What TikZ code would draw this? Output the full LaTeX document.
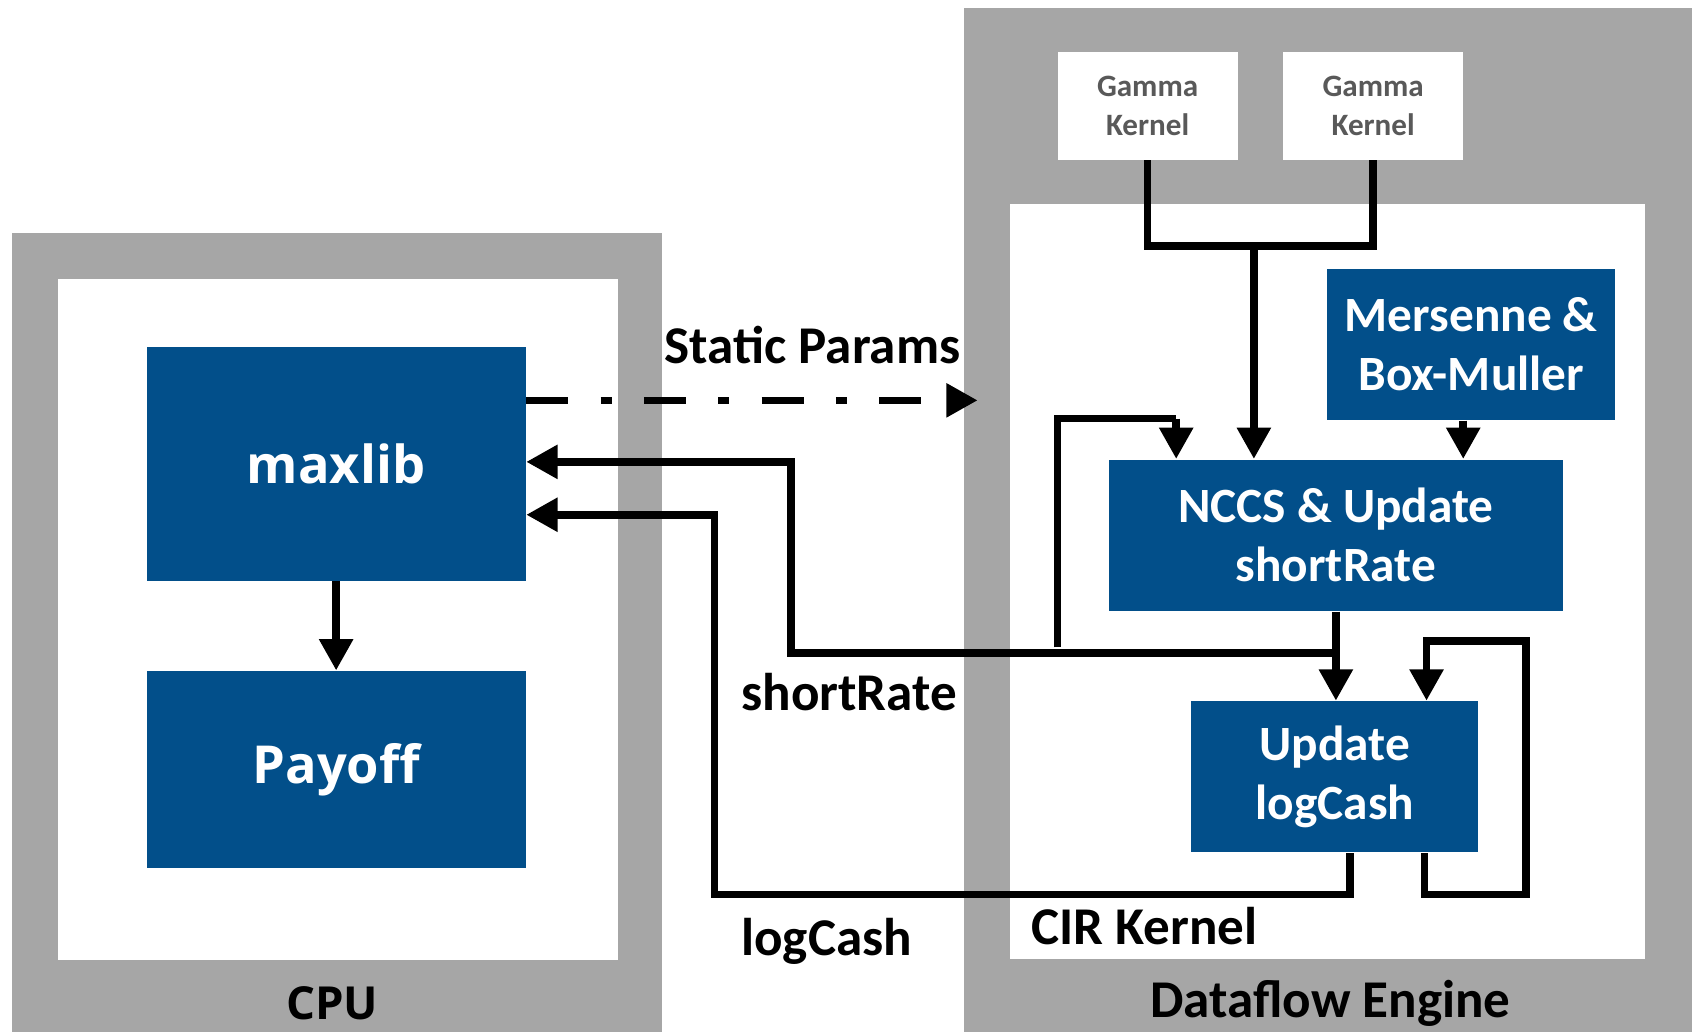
\documentclass[tikz,border=0pt]{standalone}
\usepackage{fontspec}
\setmainfont{Carlito}
\newfontfamily\uifont{Open Sans}
\usetikzlibrary{positioning,arrows.meta,calc}
\definecolor{framec}{RGB}{166,166,166}
\definecolor{blockc}{RGB}{2,79,138}
\definecolor{kernc}{RGB}{89,89,89}
\tikzset{
  frame/.style={fill=framec, anchor=north west, inner sep=0pt},
  pane/.style={fill=white, anchor=north west, inner sep=0pt},
  blk/.style={fill=blockc, text=white, align=center, inner sep=0pt,
    font=\bfseries\fontsize{13}{15.5}\selectfont},
  hostblk/.style={blk, font=\uifont\bfseries\fontsize{13.8}{16}\selectfont,
    minimum width=3.51cm},
  gam/.style={fill=white, text=kernc, align=center, inner sep=0pt,
    font=\bfseries\fontsize{8.2}{10.2}\selectfont,
    minimum width=1.67cm, minimum height=1cm},
  lbl/.style={font=\bfseries\fontsize{14}{17}\selectfont, inner sep=0pt},
  wire/.style={line width=0.7mm},
  link/.style={wire, -{Triangle[length=2.9mm,width=3mm]}},
}

\begin{document}
\begin{tikzpicture}[x=0.1mm, y=-0.1mm]
\useasboundingbox (0,0) rectangle (1568,956);

% ------------------------------------------------- frames
\node[frame, minimum width=6.03cm, minimum height=7.41cm] (cpu) at (10,215) {};
\node[pane, minimum width=5.19cm, minimum height=6.31cm] (cpuin) at (53,258) {};
\node[frame, minimum width=6.75cm, minimum height=9.49cm] (dfe) at (893,7) {};
\node[pane, minimum width=5.89cm, minimum height=7.00cm] (cirin) at (935,188) {};

\node[font=\uifont\bfseries\fontsize{12}{14}\selectfont] (cpulbl) at (308,930) {CPU};
\node[lbl] (dfelbl) at (1233,930) {Dataflow Engine};
\node[lbl, anchor=west] (cirlbl) at (955,858) {CIR Kernel};

% ------------------------------------------------- CPU side
\node[hostblk, minimum height=2.16cm] (maxlib) at (311.5,430) {maxlib};
\node[hostblk, minimum height=1.82cm] (payoff) at (311.5,713) {Payoff};
\draw[link] (maxlib.south) -- (payoff.north);

% ------------------------------------------------- DFE side
\node[gam] (gamA) at (1063.5,98) {Gamma\\Kernel};
\node[gam] (gamB) at (1272.5,98) {Gamma\\Kernel};
\node[blk, minimum width=2.67cm, minimum height=1.4cm] (mers) at (1363.5,319)
  {Mersenne \&\\Box-Muller};
\node[blk, minimum width=4.2cm, minimum height=1.4cm] (nccs) at (1238,496)
  {NCCS \& Update\\shortRate};
\node[blk, minimum width=2.66cm, minimum height=1.4cm] (upd) at (1237,720)
  {Update\\logCash};

\coordinate (gj) at (1162,228);
\draw[wire] (gamA.south) |- (gj);
\draw[wire] (gamB.south) |- (gj);
\draw[link] (gj) -- (gj |- nccs.north);
\draw[link] (mers.south -| 1356,0) -- (nccs.north -| 1356,0);

% ------------------------------------------------- links between
\node[lbl] (splbl) at (753,320) {Static Params};
\coordinate (spend) at (906,371);
\draw[link, dash pattern=on 3.9mm off 3mm on 1mm off 3mm]
  (maxlib.east |- spend) -- (spend);

\coordinate (srj) at (1238,605);
\coordinate (srx) at (733,428);
\draw[link] (nccs.south -| srj) -- (srj) -| (srx) -- (maxlib.east |- srx);
\draw[link] (srj) -- (srj |- upd.north);
\node[lbl] (srlbl) at (787,641) {shortRate};

\coordinate (fbA) at (980,600);
\coordinate (fbB) at (1090,388);
\draw[wire] (fbA) |- (fbB);
\draw[link] (fbB) -- (fbB |- nccs.north);

\coordinate (lcA) at (1251,829);
\coordinate (lcB) at (662,477);
\draw[link] (upd.south -| lcA) -- (lcA) -| (lcB) -- (maxlib.east |- lcB);
\node[lbl] (lclbl) at (766,872) {logCash};

\coordinate (slA) at (1414,829);
\coordinate (slB) at (1322,594);
\draw[link] (upd.south -| 1320,0) |- (slA) |- (slB) -- (slB |- upd.north);

\end{tikzpicture}
\end{document}
